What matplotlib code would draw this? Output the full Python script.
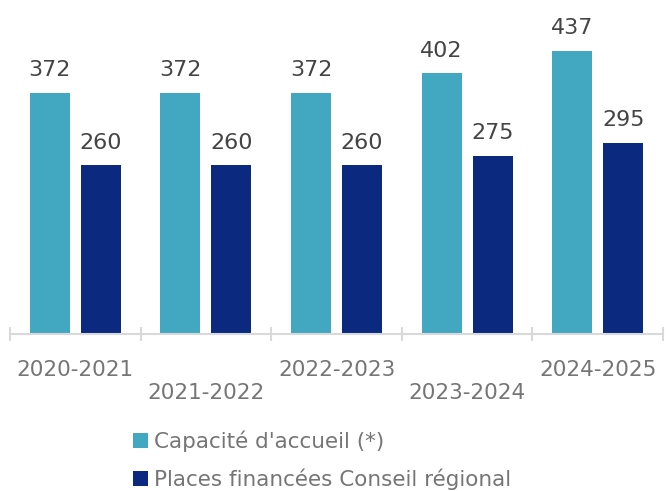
import numpy as np
import matplotlib
matplotlib.use("Agg")
import matplotlib.pyplot as plt

plt.rcParams['font.family'] = ['DejaVu Sans']

categories = ["2020-2021", "2021-2022", "2022-2023", "2023-2024", "2024-2025"]
capacite = [372, 372, 372, 402, 437]
places = [260, 260, 260, 275, 295]
series_names = ["Capacité d'accueil (*)", "Places financées Conseil régional"]

c1 = "#42A8C2"
c2 = "#0B2A7F"
txt = "#444444"
gray = "#757575"

fig = plt.figure(figsize=(6.68, 4.91), dpi=100)
ax = fig.add_axes([10/668, (491-334)/491, 653/668, 334/491])

x = np.arange(len(categories))
w = 0.306
off = 0.195
b1 = ax.bar(x - off, capacite, w, color=c1, label=series_names[0])
b2 = ax.bar(x + off, places, w, color=c2, label=series_names[1])

for bars, vals in ((b1, capacite), (b2, places)):
    for rect, v in zip(bars, vals):
        ax.annotate(str(v), (rect.get_x() + rect.get_width()/2, v),
                    xytext=(0, 9), textcoords='offset points',
                    ha='center', va='bottom', fontsize=16, color=txt)

ax.set_xlim(-0.5, len(categories) - 0.5)
ax.set_ylim(0, 515)
ax.set_yticks([])
for s in ['top', 'left', 'right']:
    ax.spines[s].set_visible(False)
ax.spines['bottom'].set_color('#d9d9d9')
ax.spines['bottom'].set_linewidth(1.5)

labels = [c if i % 2 == 0 else "\n" + c for i, c in enumerate(categories)]
ax.set_xticks(x, labels)
ax.tick_params(axis='x', which='major', length=0, pad=19, labelsize=15.5, labelcolor=gray)
ax.set_xticks(np.arange(-0.5, len(categories), 1.0), minor=True)
ax.tick_params(axis='x', which='minor', direction='inout', length=10, width=1.5, color='#d9d9d9')
for t in ax.get_xticklabels():
    t.set_linespacing(1.15)

fig.legend(handles=[b1, b2], labels=series_names, loc='upper left',
           bbox_to_anchor=(124/668, 1 - 422/491), frameon=False,
           fontsize=15.5, labelcolor=gray, handlelength=0.7, handleheight=0.7,
           handletextpad=0.3, labelspacing=0.75, borderaxespad=0)

fig.savefig("out.png", dpi=100)
